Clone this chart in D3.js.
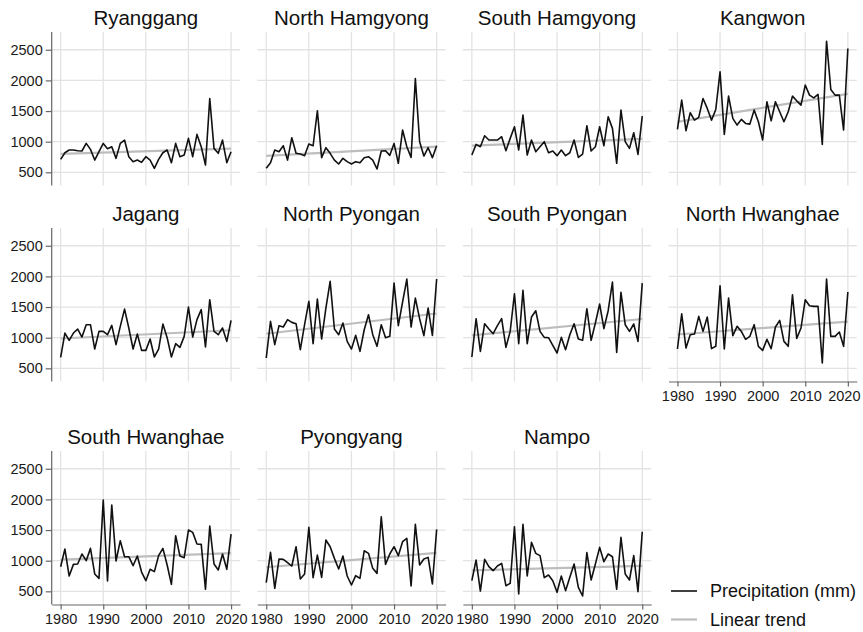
<!DOCTYPE html>
<html>
<head>
<meta charset="utf-8">
<script src="https://cdn.jsdelivr.net/npm/d3@7"></script>
<style>
  body { margin: 0; background: #fff; }
  svg { font-family: "Liberation Sans", Arial, Helvetica, sans-serif; }
</style>
</head>
<body>
<svg></svg>
<script>
let years = d3.range(1980, 2021);
let xTicks = [1980, 1990, 2000, 2010, 2020];
let yTicks = [500, 1000, 1500, 2000, 2500];

let regionNames = ['Ryanggang', 'North Hamgyong', 'South Hamgyong', 'Kangwon',
                   'Jagang', 'North Pyongan', 'South Pyongan', 'North Hwanghae',
                   'South Hwanghae', 'Pyongyang', 'Nampo'];

// annual precipitation (mm), 1980-2020
let ryanggang = [712, 820, 864, 864, 853, 848, 972, 875, 700, 837, 972, 885, 918, 728, 972, 1027, 755, 674, 700, 663,
                 755, 700, 565, 712, 820, 864, 657, 972, 755, 782, 1054, 755, 1119, 918, 619, 1705, 891, 810, 1027, 657, 837];
let northHamgyong = [565, 657, 864, 837, 934, 700, 1065, 810, 799, 772, 961, 934, 1505, 739, 902, 810, 700, 636, 728, 674,
                     636, 674, 657, 739, 755, 700, 554, 848, 853, 777, 972, 647, 1190, 918, 744, 2031, 1000, 766, 902, 739, 934];
let southHamgyong = [782, 956, 918, 1097, 1027, 1027, 1027, 1081, 853, 1054, 1244, 864, 1434, 782, 1027, 837, 918, 1000, 820, 848,
                     772, 864, 772, 820, 1027, 744, 799, 1260, 848, 918, 1244, 934, 1407, 1217, 647, 1515, 1000, 891, 1146, 793, 1418];
let kangwon = [1200, 1678, 1179, 1472, 1352, 1396, 1705, 1543, 1352, 1526, 2140, 1119, 1743, 1380, 1271, 1363, 1298, 1287, 1515, 1325,
               1027, 1651, 1341, 1651, 1488, 1325, 1488, 1743, 1667, 1597, 1923, 1760, 1716, 1771, 956, 2640, 1852, 1760, 1760, 1190, 2520];
let jagang = [679, 1076, 957, 1076, 1141, 1011, 1212, 1212, 815, 1103, 1103, 1049, 1201, 886, 1185, 1467, 1158, 815, 1060, 793,
              793, 978, 685, 815, 1223, 1000, 685, 902, 842, 1022, 1500, 1011, 1294, 1457, 848, 1620, 1103, 1049, 1158, 940, 1283];
let northPyongan = [668, 1266, 886, 1196, 1174, 1294, 1250, 1228, 804, 1212, 1592, 902, 1630, 978, 1484, 1919, 1141, 1049, 1239, 940,
                    815, 1038, 777, 1130, 1375, 1049, 859, 1212, 1000, 1022, 1891, 1196, 1581, 1957, 1174, 1647, 1310, 1033, 1484, 1038, 1957];
let southPyongan = [685, 1310, 777, 1228, 1141, 1065, 1196, 1310, 842, 1103, 1717, 902, 1772, 902, 1337, 1440, 1103, 1005, 1000, 875,
                    750, 1005, 804, 1049, 1228, 978, 957, 1473, 957, 1239, 1549, 1147, 1440, 1908, 761, 1739, 1212, 1103, 1223, 940, 1891];
let northHwanghae = [815, 1391, 832, 1049, 1060, 1348, 1103, 1337, 821, 859, 1848, 815, 1647, 1033, 1185, 1103, 973, 1022, 1212, 859,
                     793, 973, 821, 1174, 1283, 940, 859, 1701, 989, 1158, 1620, 1522, 1511, 1511, 587, 1957, 1022, 1022, 1092, 859, 1745];
let southHwanghae = [902, 1190, 750, 940, 946, 1109, 1000, 1201, 783, 712, 1989, 668, 1908, 995, 1326, 1065, 1065, 918, 1076, 815,
                     674, 859, 821, 1082, 1201, 929, 614, 1408, 1076, 1049, 1500, 1462, 1272, 1266, 533, 1565, 946, 848, 1109, 859, 1435];
let pyongyang = [641, 1136, 549, 1027, 1022, 967, 913, 1228, 701, 783, 1544, 723, 1092, 728, 1337, 1228, 1038, 864, 1076, 750,
                 603, 755, 712, 1163, 1120, 875, 793, 1717, 940, 1109, 1228, 1082, 1310, 1364, 587, 1592, 929, 1027, 1054, 620, 1511];
let nampo = [674, 1011, 505, 1022, 902, 837, 913, 957, 592, 630, 1554, 457, 1592, 750, 1299, 1120, 1082, 723, 766, 674,
             484, 750, 511, 728, 946, 565, 424, 1131, 685, 946, 1217, 984, 1109, 1065, 533, 1380, 783, 685, 1082, 495, 1473];

let regionValues = [ryanggang, northHamgyong, southHamgyong, kangwon, jagang, northPyongan,
                    southPyongan, northHwanghae, southHwanghae, pyongyang, nampo];

let width = 863;
let height = 632;
let plotLeft = 51.7;
let colStep = 205.6;
let plotW = 188.3;
let plotH = 153.5;
let rowTops = [32, 228, 451];

let svg = d3.select('svg')
            .attr('width', width)
            .attr('height', height);

let xScale = d3.scaleLinear()
                .domain([1977.9, 2022.1])
                .range([0, plotW]);

let yScale = d3.scaleLinear()
                .domain([285, 2790])
                .range([plotH, 0]);

let line = d3.line()
                .x(d => xScale(d.year))
                .y(d => yScale(d.value));

// least squares fit over the years
function linearTrend(values) {
    let mx = d3.mean(years);
    let my = d3.mean(values);
    let slope = d3.sum(years, (y, i) => (y - mx) * (values[i] - my)) / d3.sum(years, y => (y - mx) * (y - mx));
    return [1980, 2020].map(y => ({ year: y, value: my + slope * (y - mx) }));
}

regionNames.forEach((name, i) => {
    let col = i % 4;
    let row = Math.floor(i / 4);
    let values = regionValues[i];
    let g = svg.append('g')
                .attr('transform', `translate(${plotLeft + col * colStep},${rowTops[row]})`);

    g.selectAll('.hgrid')
        .data(yTicks)
        .enter()
        .append('line')
            .attr('x1', 0)
            .attr('x2', plotW)
            .attr('y1', d => yScale(d))
            .attr('y2', d => yScale(d))
            .attr('stroke', '#e3e3e3')
            .attr('stroke-width', 1.3);

    g.selectAll('.vgrid')
        .data(xTicks)
        .enter()
        .append('line')
            .attr('x1', d => xScale(d))
            .attr('x2', d => xScale(d))
            .attr('y1', 0)
            .attr('y2', plotH)
            .attr('stroke', '#e3e3e3')
            .attr('stroke-width', 1.3);

    if (col === 0) {
        let yAxis = g.append('g')
                        .call(d3.axisLeft(yScale).tickValues(yTicks).tickFormat(d3.format('d'))
                                .tickSize(6).tickSizeOuter(0).tickPadding(3));
        yAxis.selectAll('path, line').attr('stroke', '#666').attr('stroke-width', 1.2);
        yAxis.selectAll('text')
                .attr('fill', '#1a1a1a')
                .style('font-size', '14.5px');
        yAxis.select('.domain').attr('d', `M0,0V${plotH}`);
    }

    if (row === 2 || i === 7) {
        let xAxis = g.append('g')
                        .attr('transform', `translate(0,${plotH})`)
                        .call(d3.axisBottom(xScale).tickValues(xTicks).tickFormat(d3.format('d'))
                                .tickSize(5).tickSizeOuter(0).tickPadding(4));
        xAxis.selectAll('path, line').attr('stroke', '#666').attr('stroke-width', 1.2);
        xAxis.selectAll('text')
                .attr('fill', '#1a1a1a')
                .style('font-size', '14.5px');
        // keep the last year label inside the page on the right column
        if (col === 3) {
            xAxis.selectAll('text')
                    .filter(d => d === 2020)
                    .attr('dx', -4);
        }
    }

    g.append('path')
        .datum(linearTrend(values))
        .attr('d', line)
        .attr('fill', 'none')
        .attr('stroke', '#bdbdbd')
        .attr('stroke-width', 2.2);

    g.append('path')
        .datum(values.map((v, j) => ({ year: years[j], value: v })))
        .attr('d', line)
        .attr('fill', 'none')
        .attr('stroke', '#111')
        .attr('stroke-width', 1.6)
        .attr('stroke-linejoin', 'round');

    g.append('text')
        .text(name)
        .attr('x', plotW / 2)
        .attr('y', -7)
        .attr('text-anchor', 'middle')
        .attr('fill', '#111')
        .style('font-size', '20.5px');
});

let legendItems = [
    { label: 'Precipitation (mm)', color: '#111', width: 1.6 },
    { label: 'Linear trend', color: '#bdbdbd', width: 2.2 }
];

let legend = svg.selectAll('.legend')
                .data(legendItems)
                .enter()
                .append('g')
                    .classed('legend', true)
                    .attr('transform', (d, i) => `translate(671,${591 + i * 28.5})`);

legend
    .append('line')
        .attr('x1', 0)
        .attr('x2', 26)
        .attr('stroke', d => d.color)
        .attr('stroke-width', d => d.width);

legend
    .append('text')
        .text(d => d.label)
        .attr('x', 39)
        .attr('dy', '0.35em')
        .attr('fill', '#111')
        .style('font-size', '18px');
</script>
</body>
</html>
